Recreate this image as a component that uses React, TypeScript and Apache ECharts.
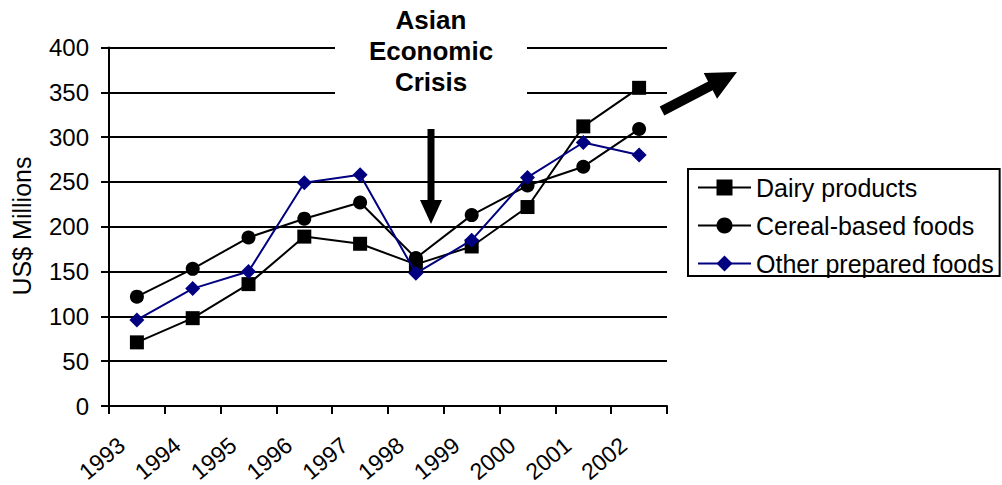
import React, { useEffect, useRef } from "react";
import * as echarts from "echarts";

const years = ["1993", "1994", "1995", "1996", "1997", "1998", "1999", "2000", "2001", "2002"];
const dairy = [71, 98, 136, 189, 181, 158, 178, 222, 312, 355];
const cereal = [122, 153, 188, 209, 227, 165, 213, 246, 267, 309];
const otherFoods = [96, 131, 150, 249, 258, 148, 185, 255, 294, 280];
const yTicks = { min: 0, max: 400, interval: 50 };

const FONT = "'Liberation Sans', Arial, Helvetica, sans-serif";

function arrowPoints(tx: number, ty: number, px: number, py: number, shaftHalf: number, headLen: number, headHalf: number) {
  const dx = px - tx, dy = py - ty;
  const len = Math.sqrt(dx * dx + dy * dy);
  const ux = dx / len, uy = dy / len;
  const nx = -uy, ny = ux;
  const bx = px - headLen * ux, by = py - headLen * uy;
  return [
    [tx + shaftHalf * nx, ty + shaftHalf * ny],
    [bx + shaftHalf * nx, by + shaftHalf * ny],
    [bx + headHalf * nx, by + headHalf * ny],
    [px, py],
    [bx - headHalf * nx, by - headHalf * ny],
    [bx - shaftHalf * nx, by - shaftHalf * ny],
    [tx - shaftHalf * nx, ty - shaftHalf * ny],
  ];
}

export default function App() {
  const ref = useRef<HTMLDivElement>(null);
  useEffect(() => {
    if (!ref.current) return;
    const chart = echarts.init(ref.current, null, { renderer: "svg" });
    const black = "#000000";
    const navy = "#000080";
    chart.setOption({
      animation: false,
      backgroundColor: "#ffffff",
      textStyle: { fontFamily: FONT },
      grid: { left: 109, right: 335, top: 47.5, bottom: 79, containLabel: false, outerBoundsMode: "none" },
      legend: {
        orient: "vertical",
        left: 688,
        top: 169,
        padding: [6, 6, 0, 9],
        itemGap: 13,
        itemWidth: 53,
        itemHeight: 20,
        borderColor: black,
        borderWidth: 2,
        textStyle: { fontSize: 25, color: black, fontFamily: FONT },
        data: ["Dairy products", "Cereal-based foods", "Other prepared foods"],
      },
      xAxis: {
        type: "category",
        data: years,
        boundaryGap: true,
        axisLine: { lineStyle: { color: black, width: 2 } },
        axisTick: { show: true, length: 8, inside: false, lineStyle: { color: black, width: 2 } },
        axisLabel: {
          interval: 0,
          rotate: 40,
          margin: 23,
          fontSize: 23,
          color: black,
          fontFamily: FONT,
          formatter: "{a|{value}}",
          rich: { a: { fontSize: 23, lineHeight: 16, color: black, fontFamily: FONT, padding: [0, 20, 0, 0] } },
        },
        splitLine: { show: false },
      },
      yAxis: {
        type: "value",
        min: yTicks.min,
        max: yTicks.max,
        interval: yTicks.interval,
        axisLine: { show: true, lineStyle: { color: black, width: 2 } },
        axisTick: { show: true, length: 8, inside: false, lineStyle: { color: black, width: 2 } },
        axisLabel: { margin: 20, fontSize: 24, color: black, fontFamily: FONT },
        splitLine: { show: true, lineStyle: { color: black, width: 2 } },
      },
      series: [
        {
          name: "Dairy products",
          type: "line",
          data: dairy,
          symbol: "rect",
          symbolSize: 14,
          lineStyle: { color: black, width: 2 },
          itemStyle: { color: black },
          z: 3,
        },
        {
          name: "Cereal-based foods",
          type: "line",
          data: cereal,
          symbol: "circle",
          symbolSize: 14,
          lineStyle: { color: black, width: 2 },
          itemStyle: { color: black },
          z: 3,
        },
        {
          name: "Other prepared foods",
          type: "line",
          data: otherFoods,
          symbol: "diamond",
          symbolSize: 15,
          lineStyle: { color: navy, width: 2 },
          itemStyle: { color: navy },
          z: 4,
        },
      ],
      graphic: [
        {
          type: "rect",
          z: 50,
          shape: { x: 335, y: 0, width: 192, height: 100 },
          style: { fill: "#ffffff" },
        },
        {
          type: "text",
          z: 60,
          x: 431,
          y: 4,
          style: {
            text: "Asian\nEconomic\nCrisis",
            fontFamily: FONT,
            fontSize: 26,
            fontWeight: "bold",
            lineHeight: 31,
            fill: black,
            align: "center",
            verticalAlign: "top",
          },
        },
        {
          type: "text",
          z: 60,
          x: 22,
          y: 226,
          rotation: Math.PI / 2,
          style: {
            text: "US$ Millions",
            fontFamily: FONT,
            fontSize: 25,
            fill: black,
            align: "center",
            verticalAlign: "middle",
          },
        },
        {
          type: "rect",
          z: 60,
          shape: { x: 427.5, y: 129, width: 7, height: 73 },
          style: { fill: black },
        },
        {
          type: "polygon",
          z: 60,
          shape: { points: [[420, 200], [442, 200], [431, 224]] },
          style: { fill: black },
        },
        {
          type: "polygon",
          z: 60,
          shape: { points: arrowPoints(662, 111, 737, 72, 5, 30, 14.5) },
          style: { fill: black },
        },
      ],
    });
    return () => chart.dispose();
  }, []);
  return (
    <div
      ref={ref}
      style={{ position: "absolute", left: 0, top: 0, width: 1002, height: 485 }}
    />
  );
}
